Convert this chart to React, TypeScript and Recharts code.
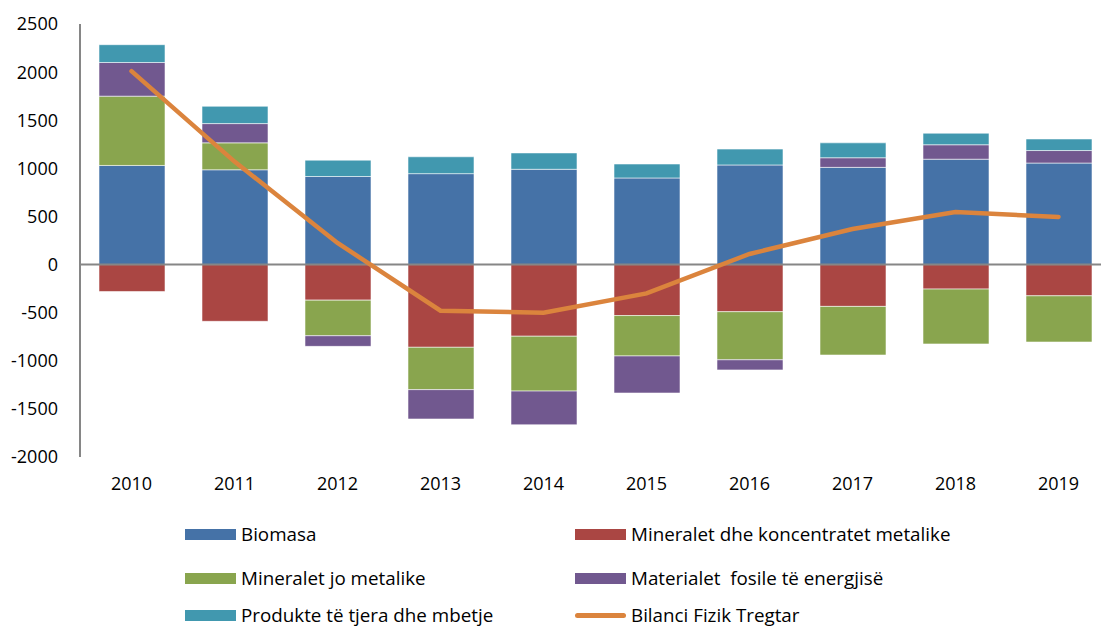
import React from 'react';
import { ComposedChart, Bar, Line, XAxis, YAxis, ReferenceLine } from 'recharts';

const years = ['2010', '2011', '2012', '2013', '2014', '2015', '2016', '2017', '2018', '2019'];
const biomasa = [1030, 985, 915, 945, 990, 900, 1035, 1010, 1095, 1055];
const mineraletMetalike = [-280, -590, -370, -860, -745, -530, -490, -435, -255, -325];
const mineraletJoMetalike = [720, 280, -370, -440, -570, -420, -500, -505, -570, -480];
const fosile = [350, 200, -110, -305, -350, -385, -105, 100, 150, 130];
const produkte = [185, 180, 170, 175, 170, 145, 165, 155, 120, 120];
const bilanci = [2010, 1070, 225, -480, -500, -300, 110, 370, 545, 495];
const yTicks = [-2000, -1500, -1000, -500, 0, 500, 1000, 1500, 2000, 2500];

const data = years.map((year, i) => ({
  year,
  biomasa: biomasa[i],
  mineraletMetalike: mineraletMetalike[i],
  mineraletJoMetalike: mineraletJoMetalike[i],
  fosile: fosile[i],
  produkte: produkte[i],
  bilanci: bilanci[i],
}));

const series = [
  { key: 'biomasa', name: 'Biomasa', color: '#4572A7' },
  { key: 'mineraletMetalike', name: 'Mineralet dhe koncentratet metalike', color: '#AA4643' },
  { key: 'mineraletJoMetalike', name: 'Mineralet jo metalike', color: '#89A54E' },
  { key: 'fosile', name: 'Materialet  fosile të energjisë', color: '#71588F' },
  { key: 'produkte', name: 'Produkte të tjera dhe mbetje', color: '#4198AF' },
];
const lineSeries = { key: 'bilanci', name: 'Bilanci Fizik Tregtar', color: '#DB843D' };

const font = '"Open Sans", "Noto Sans", sans-serif';

const legendItems = [...series.map((s) => ({ ...s, line: false })), { ...lineSeries, line: true }];

const App: React.FC = () => {
  return (
    <div style={{ position: 'absolute', left: 0, top: 0, width: 1101, height: 628, overflow: 'hidden', background: '#fff', fontFamily: font }}>
      <ComposedChart
        width={1110}
        height={628}
        data={data}
        stackOffset="sign"
        margin={{ top: 24, right: 0, bottom: 141, left: 8 }}
      >
        <YAxis
          domain={[-2000, 2500]}
          ticks={yTicks}
          width={72}
          interval={0}
          tickLine={false}
          tickMargin={16}
          axisLine={{ stroke: '#868686', strokeWidth: 2 }}
          tick={{ fill: '#000', fontSize: 18, fontFamily: font }}
        />
        <XAxis
          dataKey="year"
          axisLine={false}
          tickLine={false}
          height={30}
          tick={{ fill: '#000', fontSize: 18, fontFamily: font }}
          tickMargin={14}
        />
        {series.map((s) => (
          <Bar
            key={s.key}
            dataKey={s.key}
            name={s.name}
            stackId="a"
            fill={s.color}
            stroke="rgba(255,255,255,0.55)"
            strokeWidth={1}
            barSize={66}
            isAnimationActive={false}
          />
        ))}
        <ReferenceLine y={0} stroke="#868686" strokeWidth={2} />
        <Line
          type="linear"
          dataKey={lineSeries.key}
          name={lineSeries.name}
          stroke={lineSeries.color}
          strokeWidth={4.5}
          strokeLinecap="round"
          dot={false}
          activeDot={false}
          isAnimationActive={false}
        />
      </ComposedChart>
      <div style={{ position: 'absolute', left: 185, top: 521, width: 900 }}>
        {legendItems.map((item, i) => (
          <div
            key={item.key}
            style={{
              position: 'absolute',
              left: i % 2 === 0 ? 0 : 390,
              top: [0, 0, 44, 44, 81, 81][i],
              display: 'flex',
              alignItems: 'center',
              height: 26,
              fontSize: 18.8,
              color: '#000',
              whiteSpace: 'pre',
            }}
          >
            <span
              style={{
                display: 'inline-block',
                width: 51,
                height: item.line ? 5 : 11,
                borderRadius: item.line ? 3 : 0,
                background: item.color,
                marginRight: 5,
              }}
            />
            {item.name}
          </div>
        ))}
      </div>
    </div>
  );
};

export default App;
